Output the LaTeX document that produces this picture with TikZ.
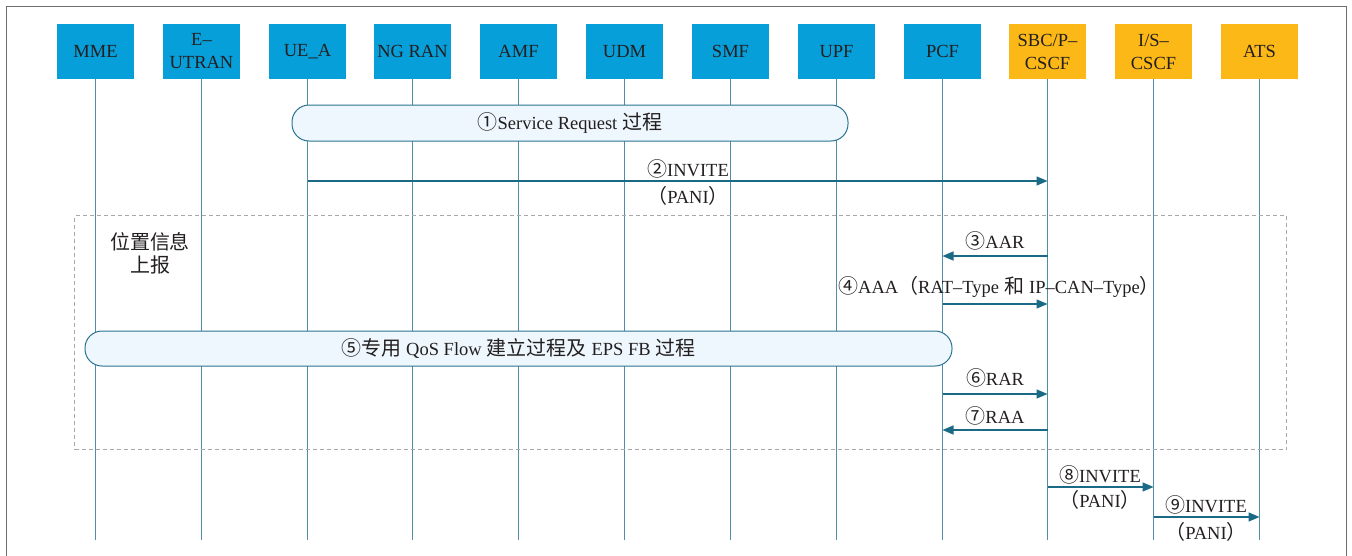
\documentclass[tikz,border=0pt]{standalone}
\usepackage{fontspec}
\setmainfont{Liberation Serif}
\newfontfamily\cjk[Scale=1.08]{Noto Sans CJK SC}
\newcommand{\gapcj}{\hspace{5pt}}
\usetikzlibrary{arrows.meta}
\definecolor{headblue}{HTML}{079FD9}
\definecolor{headorange}{HTML}{FBB817}
\definecolor{lifec}{HTML}{4F8FA5}
\definecolor{arrc}{HTML}{1A6A85}
\definecolor{barfill}{HTML}{EEF7FD}
\definecolor{barline}{HTML}{2A7390}
\definecolor{txt}{HTML}{231F20}
\definecolor{dashc}{HTML}{A8A8A8}
\definecolor{framec}{HTML}{6E6E6E}
\begin{document}
\begin{tikzpicture}[x=1pt,y=-1pt,
  every node/.style={font=\fontsize{18.5}{23}\selectfont, text=txt},
  head/.style={minimum width=77pt, minimum height=55pt, inner sep=0pt, align=center, fill=headblue},
  headims/.style={head, fill=headorange},
  life/.style={draw=lifec, line width=1.4pt},
  msg/.style={draw=arrc, line width=1.4pt, -{Triangle[length=11pt,width=9pt]}},
  bar/.style={draw=barline, fill=barfill, line width=1pt, rounded corners=17pt, inner sep=0pt},
  lbl/.style={inner sep=0pt},
  frameline/.style={draw=framec, line width=1.3pt},
  dashbox/.style={draw=dashc, line width=1pt, dash pattern=on 4pt off 3pt, inner sep=0pt}
]
\useasboundingbox (0,0) rectangle (1352,555);
\draw[frameline] (6.5,556) -- (6.5,6.5) -- (1346.5,6.5) -- (1346.5,556);

% headers
\node[head] (mme) at (95.5,51.5) {MME};
\node[head] (eut) at (201.5,51.5) {E–\\UTRAN};
\node[head] (ue)  at (307.5,51.5) {UE\_A};
\node[head] (ngr) at (412.5,51.5) {NG RAN};
\node[head] (amf) at (518.5,51.5) {AMF};
\node[head] (udm) at (624.5,51.5) {UDM};
\node[head] (smf) at (730.5,51.5) {SMF};
\node[head] (upf) at (836.5,51.5) {UPF};
\node[head] (pcf) at (942.5,51.5) {PCF};
\node[headims] (sbc) at (1047.5,51.5) {SBC/P–\\CSCF};
\node[headims] (iscf) at (1153.5,51.5) {I/S–\\CSCF};
\node[headims] (ats) at (1259.5,51.5) {ATS};

% lifelines
\foreach \n in {mme,eut,ue,ngr,amf,udm,smf,upf,pcf,sbc,iscf,ats}{
  \coordinate (\n-end) at (\n.south |- 0,540);
  \draw[life] (\n.south) -- (\n-end);
}

% group box
\node[dashbox, minimum width=1212pt, minimum height=234pt] (grp) at (680.5,332.5) {};
\node[lbl, align=center] (loc) at (150,253) {\cjk 位置信息\\\cjk 上报};

% bar 1
\node[bar, minimum width=556pt, minimum height=36pt] (sr) at (570,123) {{\cjk ①}Service Request\gapcj{\cjk 过程}};

% msg 2
\draw[msg] (ue |- 0,181) -- (sbc |- 0,181);
\node[lbl] (l2a) at (688,169) {{\cjk ②}INVITE};
\node[lbl] (l2b) at (688,196) {{\cjk （}PANI{\cjk ）}};

% msg 3
\draw[msg] (sbc |- 0,256) -- (pcf |- 0,256);
\node[lbl] (l3) at (995,241) {{\cjk ③}AAR};

% msg 4
\draw[msg] (pcf |- 0,304) -- (sbc |- 0,304);
\node[lbl] (l4) at (999,287) {{\cjk ④}AAA{\cjk （}RAT–Type\gapcj{\cjk 和}\gapcj IP–CAN–Type{\cjk ）}};

% bar 5
\node[bar, minimum width=867pt, minimum height=35pt] (qos) at (518.5,348.5) {{\cjk ⑤专用}\gapcj QoS Flow\gapcj{\cjk 建立过程及}\gapcj EPS FB\gapcj{\cjk 过程}};

% msg 6
\draw[msg] (pcf |- 0,394) -- (sbc |- 0,394);
\node[lbl] (l6) at (995,378) {{\cjk ⑥}RAR};

% msg 7
\draw[msg] (sbc |- 0,430) -- (pcf |- 0,430);
\node[lbl] (l7) at (995,416) {{\cjk ⑦}RAA};

% msg 8
\draw[msg] (sbc |- 0,487) -- (iscf |- 0,487);
\node[lbl] (l8a) at (1100,475) {{\cjk ⑧}INVITE};
\node[lbl] (l8b) at (1100,500) {{\cjk （}PANI{\cjk ）}};

% msg 9
\draw[msg] (iscf |- 0,517) -- (ats |- 0,517);
\node[lbl] (l9a) at (1206,505) {{\cjk ⑨}INVITE};
\node[lbl] (l9b) at (1206,532) {{\cjk （}PANI{\cjk ）}};
\end{tikzpicture}
\end{document}
